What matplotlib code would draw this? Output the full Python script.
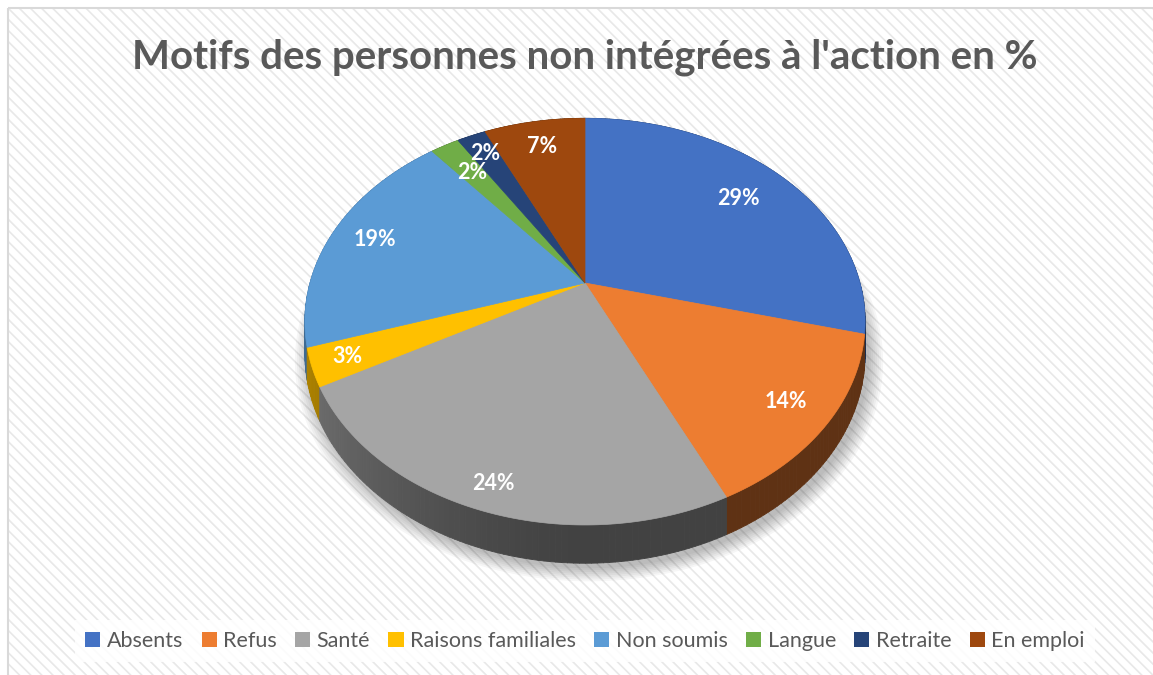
import numpy as np
import matplotlib.pyplot as plt
from matplotlib.patches import Polygon, Rectangle, Patch
from matplotlib.collections import PolyCollection
from matplotlib.colors import to_rgb

plt.rcParams['font.family'] = ['Lato', 'DejaVu Sans']
plt.rcParams['hatch.linewidth'] = 1.2

# 数据
categories = ['Absents', 'Refus', 'Santé', 'Raisons familiales', 'Non soumis',
              'Langue', 'Retraite', 'En emploi']
values = [29, 14, 24, 3, 19, 2, 2, 7]
colors = ['#4472C4', '#ED7D31', '#A5A5A5', '#FFC000', '#5B9BD5',
          '#70AD47', '#264478', '#9E480E']
title = "Motifs des personnes non intégrées à l'action en %"

# 画布与饼图几何（像素）
W, H = 1153, 675
cx, cy = 585, 283
rx, ry = 275, 196
persp = 0.19
depth = 31
label_r = [0.77, 0.85, 0.9, 0.88, 0.83, 0.78, 0.86, 0.82]


def project(theta, r=1.0, z=0.0):
    """把圆盘上的点投影到屏幕（带一点透视）"""
    X = r * np.sin(theta)
    Y = r * np.cos(theta)
    d = 1 + persp * Y
    return cx + rx * X / d, cy - ry * Y / d + z / d


fig = plt.figure(figsize=(W / 100, H / 100), dpi=100, facecolor='white')
ax = fig.add_axes([0, 0, 1, 1])
ax.set_xlim(0, W)
ax.set_ylim(H, 0)
ax.axis('off')

# 背景斜纹和边框
ax.add_patch(Rectangle((8, 8), W, H, facecolor='white', edgecolor='#e8e8e8',
                       hatch='\\\\\\', lw=0, zorder=0))
ax.add_patch(Rectangle((8, 8), W, H, fill=False, edgecolor='#d9d9d9', lw=1.5, zorder=1))

frac = np.array(values) / sum(values)
starts = np.concatenate([[0], np.cumsum(frac)[:-1]]) * 2 * np.pi
ends = np.cumsum(frac) * 2 * np.pi

# 阴影
t_all = np.linspace(0, 2 * np.pi, 360)
bx, by = project(t_all, z=depth)
for k, s in enumerate(np.linspace(1.05, 1.0, 8)):
    ax.add_patch(Polygon(np.column_stack([cx + 4 + (bx - cx) * s, cy + depth * 0.6 + 5 + (by - cy - depth * 0.6) * s]),
                         closed=True, facecolor='black', alpha=0.035, lw=0, zorder=2))

# 侧面
quads, qcols, qkeys = [], [], []
for t0, t1, c in zip(starts, ends, colors):
    n = max(2, int((t1 - t0) / np.radians(1)) + 1)
    t = np.linspace(t0, t1, n)
    tx, ty = project(t)
    lx, ly = project(t, z=depth)
    base = np.array(to_rgb(c))
    for i in range(n - 1):
        mid = 0.5 * (t[i] + t[i + 1])
        f = 0.4 + 0.3 * max(0.0, -np.sin(mid)) ** 1.5
        quads.append([(tx[i], ty[i]), (tx[i + 1], ty[i + 1]), (lx[i + 1], ly[i + 1]), (lx[i], ly[i])])
        qcols.append(base * f)
        qkeys.append(np.cos(mid))
order = np.argsort(qkeys)[::-1]
pc = PolyCollection([quads[i] for i in order], facecolors=[qcols[i] for i in order],
                    edgecolors=[qcols[i] for i in order], linewidths=0.6, zorder=3)
ax.add_collection(pc)

# 顶面
for t0, t1, c in zip(starts, ends, colors):
    n = max(2, int((t1 - t0) / np.radians(0.5)) + 1)
    t = np.linspace(t0, t1, n)
    tx, ty = project(t)
    pts = np.column_stack([np.concatenate([[cx], tx]), np.concatenate([[cy], ty])])
    ax.add_patch(Polygon(pts, closed=True, facecolor=c, edgecolor=c, lw=0.5, zorder=4))

# 数据标签
for t0, t1, v, r in zip(starts, ends, values, label_r):
    lx, ly = project(0.5 * (t0 + t1), r=r)
    ax.text(lx, ly, f'{v}%', ha='center', va='center', color='white',
            fontsize=15.5, fontweight='bold', zorder=5)

ax.text(cx, 57, title, ha='center', va='center', fontsize=29,
        fontweight='bold', color='#595959', zorder=5)

handles = [Patch(facecolor=c, edgecolor='none') for c in colors]
leg = fig.legend(handles, categories, loc='center', bbox_to_anchor=(585 / W, 1 - 641 / H),
                 ncol=8, fontsize=15.5, frameon=True, fancybox=False,
                 handlelength=0.7, handleheight=0.7, handletextpad=0.3,
                 columnspacing=0.85, labelcolor='#595959', borderpad=0.5)
leg.get_frame().set_facecolor('white')
leg.get_frame().set_edgecolor('none')
leg.get_frame().set_alpha(0.85)

fig.savefig('out.png', dpi=100, facecolor='white')
